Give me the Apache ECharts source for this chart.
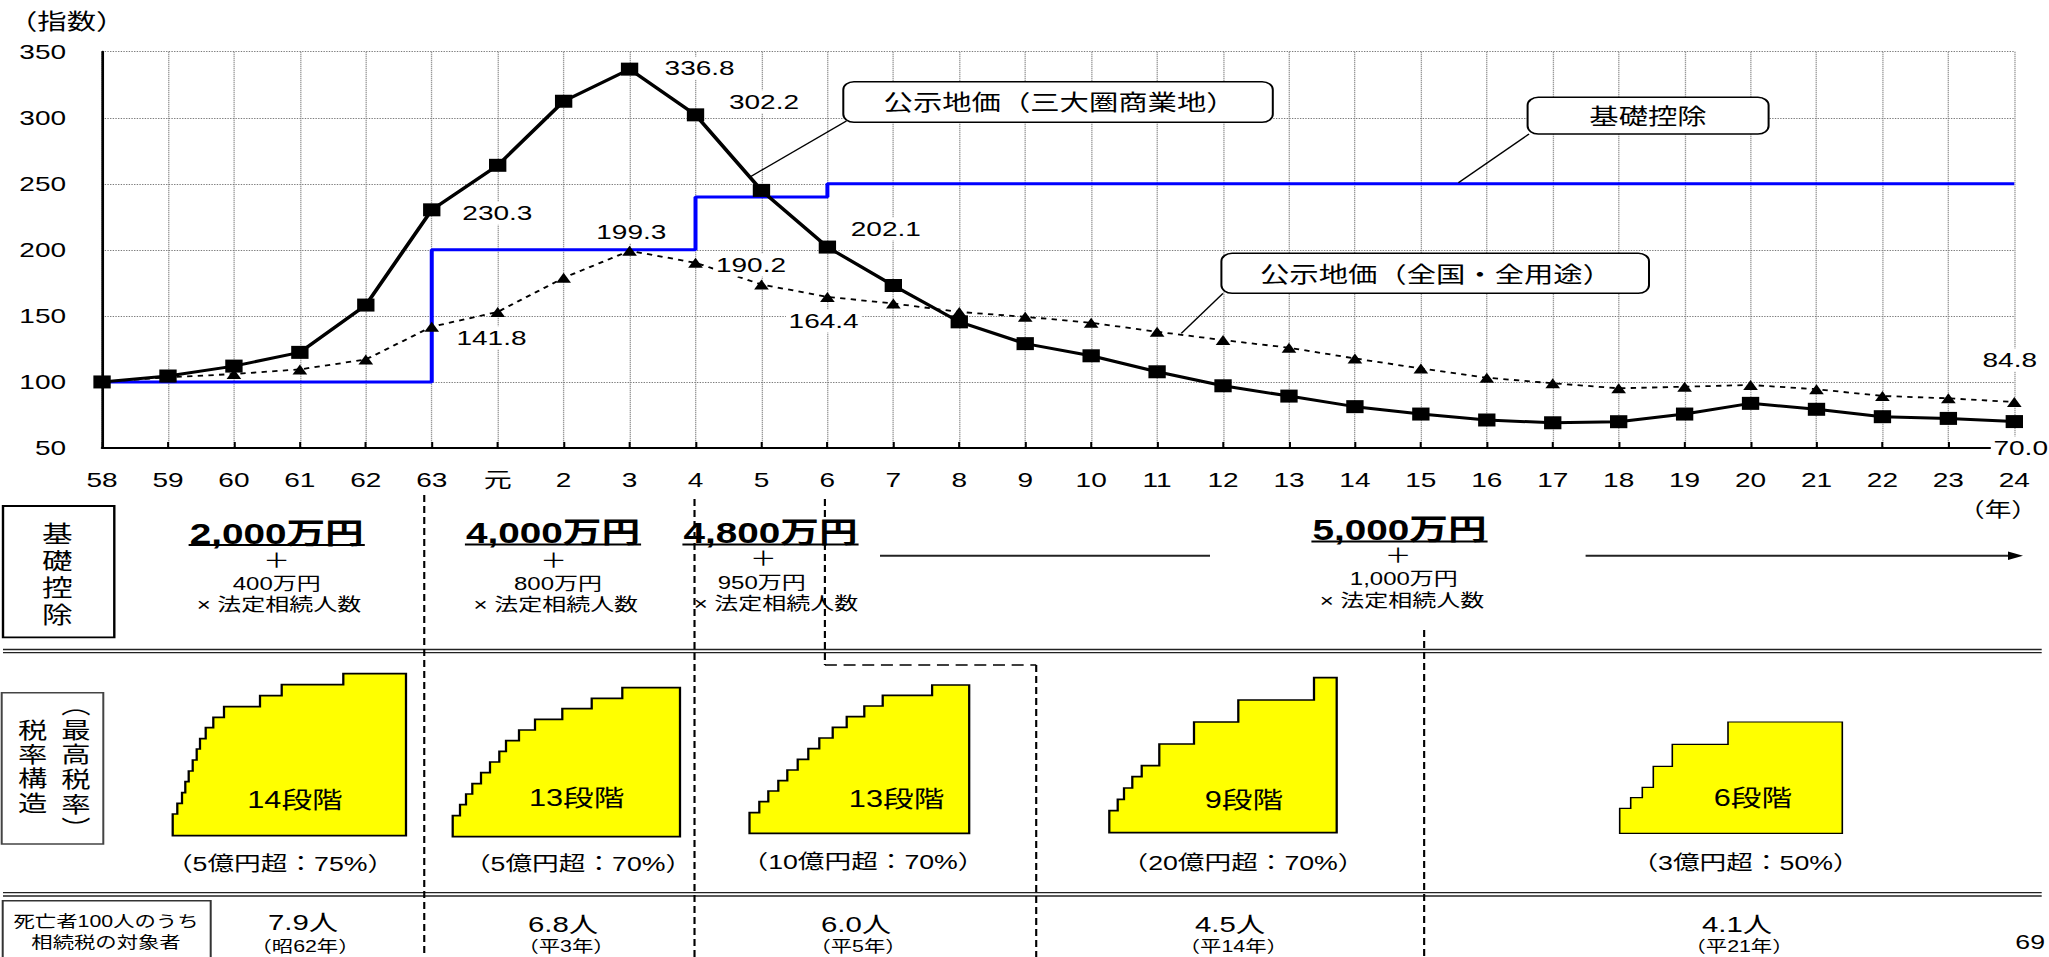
<!DOCTYPE html>
<html><head><meta charset="utf-8">
<script src="https://cdn.jsdelivr.net/npm/echarts@6/dist/echarts.min.js"></script>
<style>
html,body{margin:0;padding:0;background:#fff;overflow:hidden;width:2049px;height:957px;}
#wrap{width:2049px;height:957px;overflow:hidden;position:relative;background:#fff;}
#chart{width:1536px;height:957px;transform:scaleX(1.333984);transform-origin:0 0;}
</style></head><body><div id="wrap"><div id="chart"></div></div>
<script>
// ---------------- data ----------------
const categories = ['58','59','60','61','62','63','元','2','3','4','5','6','7','8','9','10','11','12','13','14','15','16','17','18','19','20','21','22','23','24'];
const commercialLand = [100,104.5,112,122.4,158.2,230.3,264,312.5,336.8,302.2,245,202.1,173,145.5,129,119.8,107.7,97.1,89.3,81.3,75.7,71.2,69.1,69.9,75.7,83.8,79.3,73.7,72.4,70.0];
const nationalLand = [100,103.5,106,109.5,117,141.8,153,178.8,199.3,190.2,173.8,164.4,159.4,153,149.3,144.8,138,131.7,125.9,117.8,110.2,103.2,99,95.2,96.4,97.7,94.5,89.4,87.6,84.8];
const basicDeduction = [100,100,100,100,100,200,200,200,200,240,240,250,250,250,250,250,250,250,250,250,250,250,250,250,250,250,250,250,250,250];
const yMin = 50, yMax = 350, yStep = 50;
const commercialLabelled = [5,8,9,11,29];
const nationalLabelled = [5,8,9,11,29];
const seriesNames = ['基礎控除','公示地価（三大圏商業地）','公示地価（全国・全用途）'];
const deductionMain = ['2,000万円','4,000万円','4,800万円','5,000万円'];
const deductionPer = ['400万円','800万円','950万円','1,000万円'];
const taxSteps = ['14段階','13段階','13段階','9段階','6段階'];
const topRate = ['（5億円超：75%）','（5億円超：70%）','（10億円超：70%）','（20億円超：70%）','（3億円超：50%）'];
const taxpayers = ['7.9人','6.8人','6.0人','4.5人','4.1人'];
const taxpayerYears = ['（昭62年）','（平3年）','（平5年）','（平14年）','（平21年）'];

// ---------------- layout (positions in reference pixels; x is divided by the stretch) ----------------
const W = 1536, H = 957, S = 2049 / 1536;
const fx = v => v / S;
const FONT = '"Liberation Sans", Arial, "Noto Sans CJK JP", sans-serif';
const commercialOffsets = {5:[49.2,3.4], 8:[52.5,-1], 9:[51.3,-13], 11:[43.8,-18], 29:[4.8,26.4]};
const nationalOffsets = {5:[44.8,11], 8:[1.3,-19], 9:[41.6,2.3], 11:[-2.8,24], 29:[-3.4,-42]};

function labelled(values, idxs, offs) {
  return values.map((v, i) => idxs.includes(i) ? {
    value: v,
    label: {show: true, position: 'inside', offset: offs[i], formatter: p => p.value.toFixed(1),
      fontSize: 21, color: '#000', fontFamily: FONT, backgroundColor: '#fff', padding: [1, 2]}
  } : v);
}

const option = {
  animation: false,
  backgroundColor: '#fff',
  textStyle: {fontFamily: FONT},
  grid: {left: 76.5, right: 26, top: 51.7, bottom: H - 448},
  xAxis: {
    type: 'category', data: categories, boundaryGap: false,
    axisLine: {lineStyle: {color: '#000', width: 2}},
    axisTick: {inside: true, length: 6, lineStyle: {color: '#000', width: 1.5}},
    axisLabel: {fontSize: 21, color: '#000', margin: 21, fontFamily: FONT, interval: 0},
    splitLine: {show: true, lineStyle: {color: '#7a7a7a', width: 1, type: [1, 1]}}
  },
  yAxis: {
    type: 'value', min: yMin, max: yMax, interval: yStep,
    axisLine: {show: true, lineStyle: {color: '#000', width: 2}},
    axisTick: {show: false},
    axisLabel: {fontSize: 21, color: '#000', margin: 27, fontFamily: FONT},
    splitLine: {show: true, lineStyle: {color: '#7a7a7a', width: 1, type: [1, 1]}}
  },
  series: [
    {name: seriesNames[0], type: 'line', data: basicDeduction, step: 'end', symbol: 'none',
     lineStyle: {color: '#0000ff', width: 3}, z: 1, silent: true},
    {name: seriesNames[2], type: 'line', data: labelled(nationalLand, nationalLabelled, nationalOffsets),
     symbol: 'triangle', symbolSize: [11, 10], itemStyle: {color: '#000'},
     lineStyle: {color: '#000', width: 1.8, type: [4, 4]}, z: 2, silent: true},
    {name: seriesNames[1], type: 'line', data: labelled(commercialLand, commercialLabelled, commercialOffsets),
     symbol: 'rect', symbolSize: 13, itemStyle: {color: '#000'},
     lineStyle: {color: '#000', width: 3}, z: 3, silent: true}
  ]
};

const chart = echarts.init(document.getElementById('chart'), null, {renderer: 'svg', width: W, height: H});
chart.setOption(option);

// ---------------- annotations ----------------
const ctx = document.createElement('canvas').getContext('2d');
function measure(str, size, weight) { ctx.font = (weight || 'normal') + ' ' + size + 'px ' + FONT; return ctx.measureText(str).width; }
const G = [];
function T(xF, y, str, size, extra) {
  G.push({type: 'text', x: fx(xF), y: y, z: 120, silent: true,
    style: Object.assign({text: str, fontSize: size, fontFamily: FONT, fill: '#000', align: 'center', verticalAlign: 'middle'}, extra || {})});
}
function L(x1F, y1, x2F, y2, w, dash, color) {
  G.push({type: 'line', z: 110, silent: true, shape: {x1: fx(x1F), y1: y1, x2: fx(x2F), y2: y2},
    style: {stroke: color || '#000', lineWidth: w, lineDash: dash || null}});
}
function R(xF, y, x2F, y2, w, stroke, r, fill) {
  G.push({type: 'rect', z: 105, silent: true, shape: {x: fx(xF), y: y, width: fx(x2F) - fx(xF), height: y2 - y, r: r || 0},
    style: {fill: fill || '#fff', stroke: stroke, lineWidth: w}});
}
const catX = i => chart.convertToPixel({gridIndex: 0}, [i, yMin])[0] * S; // reference px

// y-axis unit and x-axis unit
T(8, 21.7, '（指数）', 22, {align: 'left'});
T(1998, 510, '（年）', 20);

// callouts
R(843.3, 81.7, 1272.8, 122.3, 1.5, '#000', 8);
T(1059.6, 102.5, seriesNames[1], 22);
L(846.4, 121, 750.4, 176.7, 1.2);
R(1527.6, 97.3, 1768.6, 134, 1.5, '#000', 8);
T(1648, 116.5, seriesNames[0], 22);
L(1529, 134, 1458.4, 182.7, 1.2);
R(1221.4, 253.3, 1649, 293.3, 1.5, '#000', 8);
T(1436, 274.5, seriesNames[2], 22);
L(1223, 293.3, 1181.3, 333.3, 1.2);

// separators (double lines)
[[649.5, 652.7], [892.7, 896]].forEach(pair => pair.forEach(y => L(3, y, 2041.7, y, 1.3, null, '#222')));

// dashed period lines, tied to category positions
const V = [7, 4], HD = [9, 5];
L(catX(5) - 7.5, 495, catX(5) - 7.5, 957, 1.6, V);
L(catX(9) - 1, 499, catX(9) - 1, 957, 1.6, V);
L(catX(11) - 2.5, 499, catX(11) - 2.5, 665, 1.6, V);
L(catX(11) - 2.5, 665, catX(14) + 11, 665, 1.6, HD);
L(catX(14) + 11, 665, catX(14) + 11, 957, 1.6, V);
L(catX(20) + 3.3, 630, catX(20) + 3.3, 957, 1.6, V);

// 基礎控除 row
R(3, 506, 114.3, 637.3, 1.8, '#000');
T(57.3, 574, '基\n礎\n控\n除', 23, {lineHeight: 27});
const dedPos = [[276.7, 533.5], [553, 533], [770.5, 533], [1399.5, 530]];
const plusPos = [[276.7, 561.5], [553.6, 561], [763.3, 559], [1398, 556.7]];
const perPos = [[276.7, 583.3], [558, 583.3], [761.7, 582.7], [1403.8, 579]];
const mulPos = [[279, 605], [555.8, 605], [776, 603.3], [1402, 600.7]];
deductionMain.forEach((s, i) => {
  const [x, y] = dedPos[i];
  T(x, y, s, 29, {fontWeight: 'bold'});
  const w = measure(s, 29, 'bold') * S;
  L(x - w / 2 - 1, y + 11.5, x + w / 2 + 1, y + 11.5, 2);
  T(plusPos[i][0], plusPos[i][1], '＋', 20);
  T(perPos[i][0], perPos[i][1], deductionPer[i], 18);
  T(mulPos[i][0], mulPos[i][1], '× 法定相続人数', 18);
});
L(880, 555.7, 1210, 555.7, 2, null, '#222');
L(1585.6, 555.7, 2014, 555.7, 2, null, '#222');
G.push({type: 'polygon', z: 110, silent: true, shape: {points: [[fx(2008), 551.5], [fx(2023), 555.7], [fx(2008), 560]]}, style: {fill: '#000'}});

// 税率構造 row
R(1.7, 692.7, 103.3, 844, 1.5, '#444');
T(32.7, 766.5, '税\n率\n構\n造', 22, {lineHeight: 24.4});
T(76, 767, '︵\n最\n高\n税\n率\n︶', 22, {lineHeight: 24.6});
const stairs = [
  {left: 172.7, bottom: 835.7, right: 406, risers: [172.7,177.3,182,185.3,188.7,192.7,196.7,200,205.7,213.3,224,260,281.7,343.3], levels: [814,803.3,792.7,781.7,771,760,749,738.7,727.7,717.3,706.7,695.7,684.7,673.7], lw: 1.7},
  {left: 452.7, bottom: 836.7, right: 680, risers: [452.7,460,466,472.3,481,490,499.3,506,519,535,562.3,591.7,622.3], levels: [815.7,804.7,794,783.7,772.7,762,751.3,740.7,730,719.3,708.7,698.3,687.7], lw: 1.7},
  {left: 749.5, bottom: 833.3, right: 969.2, risers: [749.5,759.3,768.3,778.3,787.3,797.7,808.3,819.3,832.7,846.7,864.3,882.7,932.1], levels: [812.7,801.7,791,780.7,770,759.3,748.7,738,727.3,716.7,706,695.3,685], lw: 1.7},
  {left: 1109.3, bottom: 832.7, right: 1336.7, risers: [1109.3,1117.7,1124,1132.3,1141.7,1159.3,1194,1238.3,1314], levels: [810.7,799.3,788,776.7,765.7,744,722,700,677.7], lw: 1.7},
  {left: 1619.7, bottom: 833.3, right: 1842.3, risers: [1619.7,1630.7,1642.3,1653.3,1672.3,1728], levels: [808.3,797.7,787.3,766.3,744.3,722], lw: 1.2}
];
stairs.forEach(st => {
  const pts = [[fx(st.left), st.bottom]];
  let y = st.bottom;
  st.risers.forEach((r, i) => { pts.push([fx(r), y]); pts.push([fx(r), st.levels[i]]); y = st.levels[i]; });
  pts.push([fx(st.right), y]); pts.push([fx(st.right), st.bottom]);
  G.push({type: 'polygon', z: 106, silent: true, shape: {points: pts}, style: {fill: '#ffff00', stroke: '#000', lineWidth: st.lw}});
});
const stepPos = [[295, 800], [576.7, 798], [896.6, 799.3], [1244, 800], [1753, 798.3]];
const ratePos = [[280, 864.3], [578, 864], [863, 862], [1243, 863.3], [1745.5, 863.3]];
taxSteps.forEach((s, i) => T(stepPos[i][0], stepPos[i][1], s, 23));
topRate.forEach((s, i) => T(ratePos[i][0], ratePos[i][1], s, 20));

// 対象者 row
R(2.7, 900.7, 210.7, 990, 1.5, '#333');
T(106, 921.7, '死亡者100人のうち', 16);
T(106, 942.7, '相続税の対象者', 16);
const tpPos = [[303, 922.7], [563, 924], [856, 924], [1230, 924.7], [1737, 924]];
const yrPos = [[305, 946.7], [566, 946.7], [858, 946.7], [1233.3, 946.7], [1739, 946]];
taxpayers.forEach((s, i) => T(tpPos[i][0], tpPos[i][1], s, 22));
taxpayerYears.forEach((s, i) => T(yrPos[i][0], yrPos[i][1], s, 16));
T(2045, 942, '69', 20, {align: 'right', verticalAlign: 'middle'});

chart.setOption({graphic: G});
</script></body></html>
